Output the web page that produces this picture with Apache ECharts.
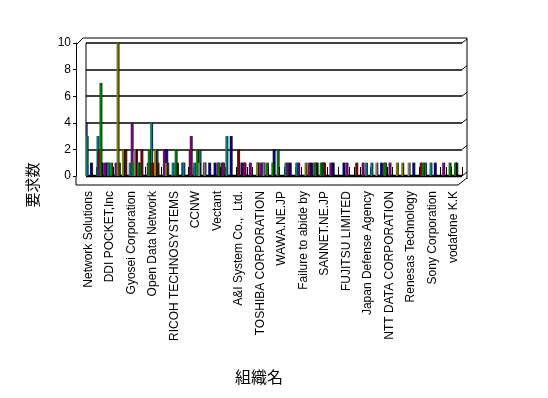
<!DOCTYPE html>
<html>
<head>
<meta charset="utf-8">
<script src="https://cdn.jsdelivr.net/npm/echarts@6/dist/echarts.min.js"></script>
<style>
html, body { margin: 0; padding: 0; background: #fff; }
#main { width: 548px; height: 398px; }
</style>
</head>
<body>
<div id="main"></div>
<script>
// 組織名 (4件ごとにラベル表示、間のラベルは読めない)
var categories = [
  'Network Solutions', '', '', '',
  'DDI POCKET,Inc', '', '', '',
  'Gyosei Corporation', '', '', '',
  'Open Data Network', '', '', '',
  'RICOH TECHNOSYSTEMS', '', '', '',
  'CCNW', '', '', '',
  'Vectant', '', '', '',
  'A&I System Co.,  Ltd.', '', '', '',
  'TOSHIBA CORPORATION', '', '', '',
  'WAWA.NE.JP', '', '', '',
  'Failure to abide by', '', '', '',
  'SANNET.NE.JP', '', '', '',
  'FUJITSU LIMITED', '', '', '',
  'Japan Defense Agency', '', '', '',
  'NTT DATA CORPORATION', '', '', '',
  'Renesas Technology', '', '', '',
  'Sony Corporation', '', '', '',
  'vodafone K.K', ''
];

// 要求数 (系列ごと)
var s1 = [4,1,0,1,1,0,0,1,0,0, 1,0,1,0,0,2,0,1,1,0, 0,0,1,1,1,0,0,3,0,1, 0,0,1,1,0,2,0,0,1,0,
          0,0,1,1,1,0,1,0,1,0, 0,0,0,0,0,1,0,0,0,0, 0,1,0,0,0,1,0,0,0,1];
var s2 = [3,0,3,0,1,0,1,0,1,1, 1,0,4,2,0,1,1,0,1,0, 1,2,0,0,0,0,3,0,0,0, 0,0,0,0,0,0,0,1,0,1,
          0,0,0,0,1,0,0,0,0,0, 0,0,1,1,0,0,0,0,0,0, 0,0,0,1,1,0,0,0,0,0];
var s3 = [0,0,2,0,0,0,0,2,0,2, 2,0,1,1,0,0,0,0,0,2, 0,0,0,0,0,1,0,0,2,1, 0,0,0,0,0,0,0,0,0,0,
          0,0,0,0,1,0,0,0,0,0, 1,0,0,0,0,0,0,0,0,0, 0,0,1,0,0,0,0,0,0,0];
var s4 = [0,0,1,1,0,1,0,0,4,0, 0,1,0,0,2,0,0,0,0,3, 0,0,0,0,1,1,0,0,0,1, 1,0,1,0,0,0,0,1,0,1,
          0,1,1,0,0,1,0,0,1,0, 0,1,0,0,0,1,1,0,0,0, 0,0,0,0,0,0,1,0,0,0];
var s5 = [0,0,7,0,1,0,0,0,1,1, 0,2,0,0,0,0,2,0,0,0, 2,0,0,0,1,0,0,0,0,0, 0,0,0,1,1,2,0,0,0,0,
          0,0,1,1,0,0,0,0,0,0, 0,0,0,0,0,1,0,0,0,0, 0,0,1,0,0,0,0,1,1,0];
var s6 = [0,0,0,0,0,10,2,0,0,0, 0,0,2,0,1,0,0,0,0,0, 0,0,0,0,0,0,0,0,0,0, 0,1,0,0,0,0,0,0,0,0,
          1,0,0,0,0,0,0,0,0,0, 0,0,0,0,0,0,0,1,1,0, 0,0,0,0,0,0,0,0,0,0];
var s7 = [0,0,0,0,0,0,0,0,2,0, 0,0,0,0,0,0,0,0,0,0, 1,1,0,0,0,0,0,0,0,0, 0,0,1,0,0,0,0,0,0,0,
          0,0,0,0,0,0,0,0,0,0, 0,0,0,1,0,0,0,0,0,1, 0,0,0,0,0,0,0,0,0,0];

var yTicks = [0, 2, 4, 6, 8, 10];

var chart = echarts.init(document.getElementById('main'));

var font = '"Liberation Sans", Arial, sans-serif';
var cjk = '"Noto Sans CJK JP", sans-serif';
var colors = ['#000080', '#008080', '#800000', '#800080', '#008000', '#808000', '#808080'];
var allData = [s1, s2, s3, s4, s5, s6, s7];

// プロット領域 (奥の壁)
var L = 86, R = 462, T = 43, B = 176;

var series = allData.map(function (d, i) {
  return {
    name: '系列' + (i + 1),
    type: 'bar',
    data: d,
    barWidth: 2,
    barGap: '-50%',
    silent: true,
    itemStyle: {
      color: colors[i],
      shadowColor: 'rgba(0,0,0,0.85)',
      shadowOffsetX: 1
    }
  };
});

var line = function (x1, y1, x2, y2, w) {
  return {
    type: 'line', silent: true,
    shape: { x1: x1, y1: y1, x2: x2, y2: y2 },
    style: { stroke: '#000', lineWidth: w || 1 }
  };
};

var frame = [
  line(L, T, L, B),
  line(76, 45, 83, 38),
  line(83, 38, 467, 38),
  line(467, 38, 467, 179),
  line(458, 185, 467, 178),
  line(76, B, 76, 185),
  line(76, 185, 458, 185),
  line(L, B, R, B, 2.5)
];
yTicks.forEach(function (v) {
  var y = B - (B - T) * v / 10;
  frame.push(line(R, y, 467, y - 4));
});

frame.push({
  type: 'text', x: 259, y: 377, silent: true,
  style: { text: '組織名', font: '16px ' + cjk, fill: '#000', align: 'center', verticalAlign: 'middle' }
});
frame.push({
  type: 'text', x: 32, y: 185, rotation: Math.PI / 2, silent: true,
  style: { text: '要求数', font: '15px ' + cjk, fill: '#000', align: 'center', verticalAlign: 'middle' }
});

var option = {
  animation: false,
  backgroundColor: '#fff',
  grid: { left: L, right: 548 - R, top: T, bottom: 398 - B, outerBoundsMode: 'none' },
  xAxis: {
    type: 'category',
    data: categories,
    offset: 9,
    axisLine: { show: false },
    axisTick: { show: true, interval: 0, inside: true, length: 9, lineStyle: { color: '#000', width: 1 } },
    axisLabel: {
      interval: 3, rotate: 90, margin: 6,
      color: '#000', fontFamily: font, fontSize: 12
    },
    splitLine: { show: false }
  },
  yAxis: {
    type: 'value',
    min: 0, max: 10, interval: 2,
    offset: 10,
    axisLine: { show: true, lineStyle: { color: '#000', width: 1 } },
    axisTick: { show: true, length: 3, lineStyle: { color: '#000' } },
    axisLabel: { margin: 5, color: '#000', fontFamily: font, fontSize: 12 },
    splitLine: { show: true, lineStyle: { color: '#000', width: 1.5 } }
  },
  series: series,
  graphic: frame
};

chart.setOption(option);
</script>
</body>
</html>
